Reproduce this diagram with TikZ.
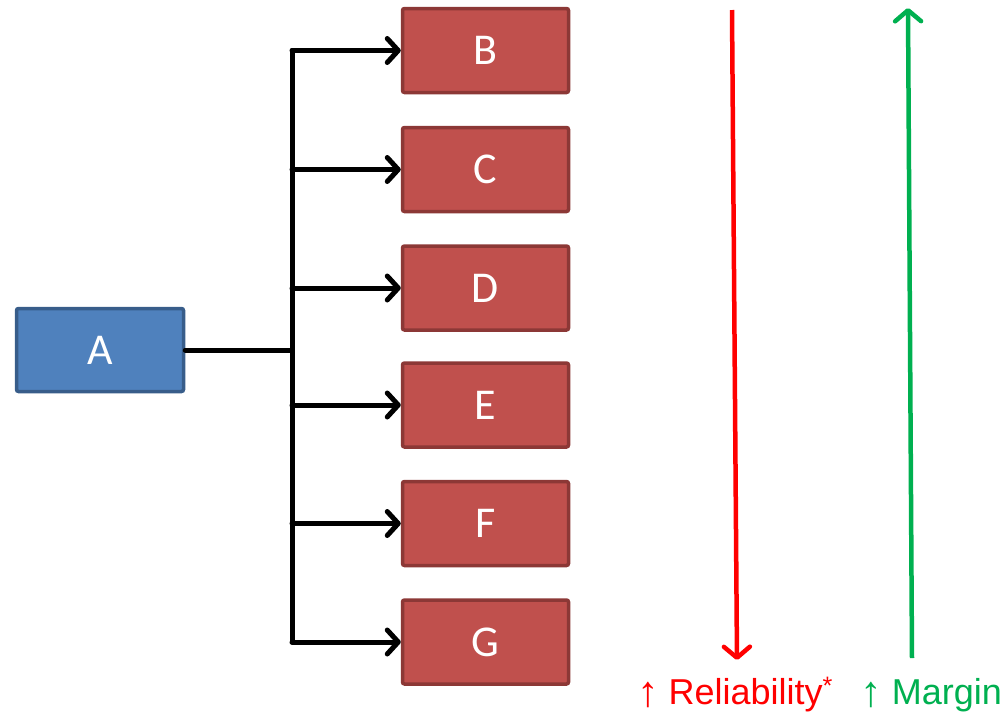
\documentclass[tikz,border=0pt]{standalone}
\usepackage{fontspec}
\setmainfont{Liberation Sans}
\newfontfamily\boxfont{Carlito}
\usetikzlibrary{arrows.meta}
\definecolor{blueFill}{HTML}{4F81BD}
\definecolor{blueLine}{HTML}{385D8A}
\definecolor{redFill}{HTML}{C0504D}
\definecolor{redLine}{HTML}{8C3836}
\definecolor{upRed}{HTML}{FF0000}
\definecolor{upGreen}{HTML}{00B050}
% slightly enlarged up-arrow used in front of the captions
\newcommand{\tallup}{\raisebox{-2pt}{\scalebox{1.2}[1.2]{↑}}}
\tikzset{
  srcbox/.style={draw=blueLine, fill=blueFill, line width=3.5pt, rounded corners=2pt,
    minimum width=167pt, minimum height=83pt, text=white, inner sep=0pt,
    font=\boxfont\fontsize{44}{50}\selectfont},
  tgtbox/.style={draw=redLine, fill=redFill, line width=3.5pt, rounded corners=2pt,
    minimum width=166pt, minimum height=84pt, text=white, inner sep=0pt,
    font=\boxfont\fontsize{44}{50}\selectfont},
  wire/.style={line width=5pt, line cap=round, line join=round},
  feed/.style={wire, -{Straight Barb[length=11pt, width=24pt, round]}},
  trend/.style={line width=4.5pt, -{Straight Barb[length=11pt, width=26pt, round]}},
  caption/.style={anchor=base, inner sep=0pt, font=\fontsize{36}{40}\selectfont}
}
\begin{document}
\begin{tikzpicture}[x=1pt, y=-1pt]
  \useasboundingbox (0,0) rectangle (1005,716);

  % source and target blocks
  \node[srcbox] (A) at (100,350) {A};
  \node[tgtbox] (B) at (485.5,50.5) {B};
  \node[tgtbox] (C) at (485.5,169.5) {C};
  \node[tgtbox] (D) at (485.5,288) {D};
  \node[tgtbox] (E) at (485.5,405) {E};
  \node[tgtbox] (F) at (485.5,523.5) {F};
  \node[tgtbox] (G) at (485.5,642) {G};

  % distribution bus
  \coordinate (hub) at (292,350);
  \draw[wire] (A.east) -- (hub);
  \draw[wire] (hub |- B.west) -- (hub |- G.west);
  \foreach \t in {B,C,D,E,F,G}
    \draw[feed] (hub |- \t.west) -- (\t.west);

  % trend arrows
  \coordinate (relTop) at (732,10);
  \coordinate (relTip) at (737,660);
  \coordinate (marBot) at (912,658);
  \coordinate (marTip) at (908,8);
  \draw[trend, upRed] (relTop) -- (relTip);
  \draw[trend, upGreen] (marBot) -- (marTip);

  % captions
  \node[caption, text=upRed] (rel) at (735,704) {\tallup\ Reliability\textsuperscript{*}};
  \node[caption, text=upGreen] (mar) at (931,704) {\tallup\ Margin};
\end{tikzpicture}
\end{document}
